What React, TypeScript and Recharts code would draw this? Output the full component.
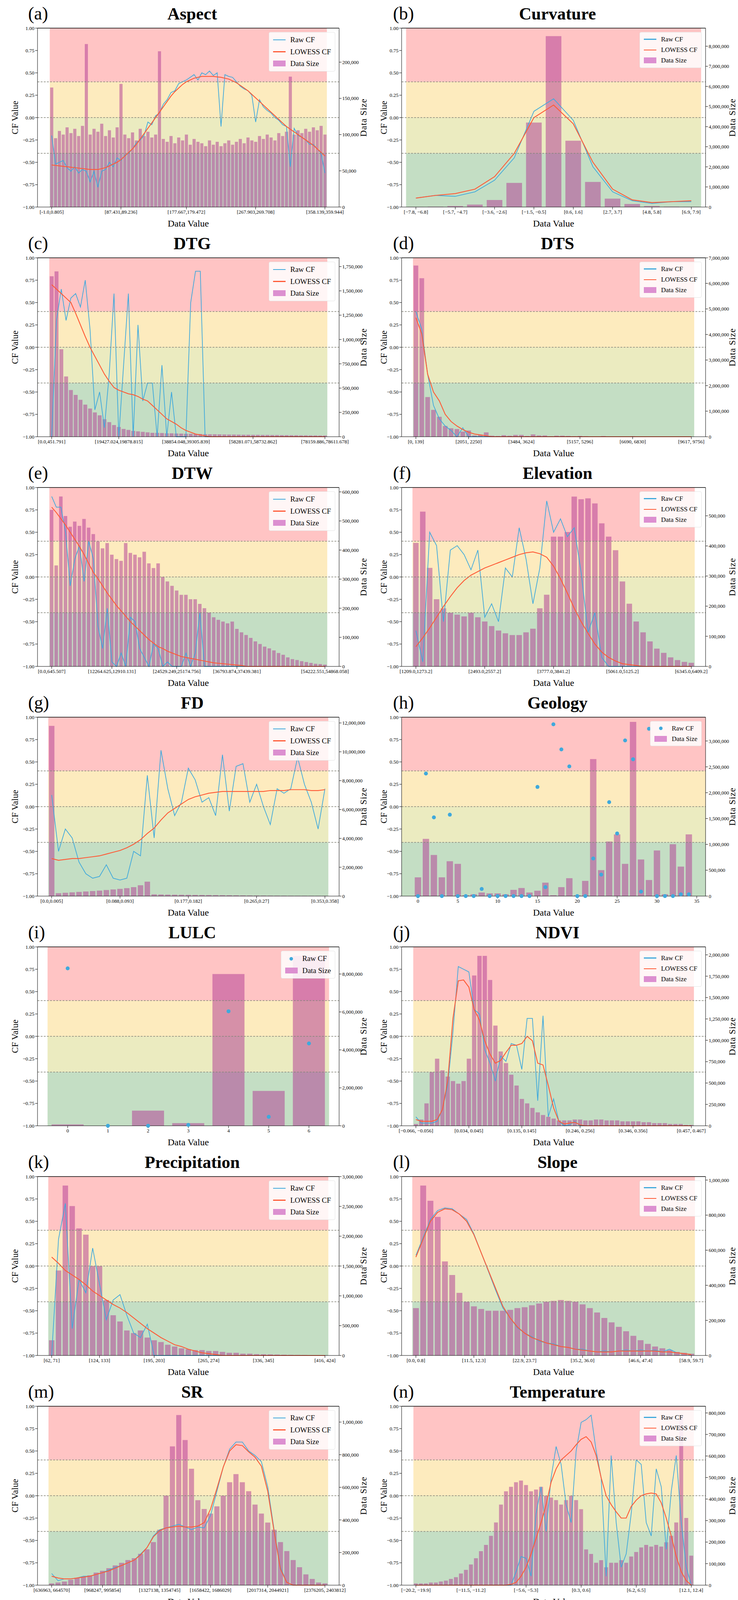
import React from "react";
import { ComposedChart, Bar, Line, XAxis, YAxis, ReferenceArea, ReferenceLine } from "recharts";

const FONT = '"Liberation Serif", "Times New Roman", serif';
const BLUE = "#3fa9dc";
const RED = "#ff5a36";
const BAR = "#b03592";

// ---------- (a) Aspect ----------
const aspectSizeK = [165,95,105,100,110,102,108,98,112,225,100,108,104,115,98,106,96,110,170,100,95,103,92,108,98,104,96,100,215,94,90,98,88,96,92,100,86,94,90,88,84,92,86,90,84,88,92,86,90,94,88,96,92,90,98,94,100,96,92,102,98,104,180,100,106,102,108,104,110,106,112,100];
const aspectRaw = [-0.2,-0.52,-0.5,-0.48,-0.56,-0.6,-0.55,-0.62,-0.58,-0.6,-0.72,-0.6,-0.78,-0.6,-0.58,-0.5,-0.55,-0.45,-0.48,-0.42,-0.4,-0.35,-0.28,-0.25,-0.2,-0.05,-0.08,0.02,0.05,0.15,0.2,0.28,0.3,0.38,0.4,0.42,0.45,0.48,0.42,0.5,0.48,0.52,0.47,0.5,-0.1,0.48,0.46,0.45,0.4,0.35,0.32,0.3,0.25,-0.05,0.2,0.12,0.08,0.05,0.0,-0.03,-0.08,-0.1,-0.55,-0.12,-0.2,-0.22,-0.25,-0.3,-0.3,-0.35,-0.4,-0.62];
const aspectLowess = [-0.53,-0.535,-0.54,-0.545,-0.55,-0.555,-0.56,-0.565,-0.57,-0.575,-0.58,-0.58,-0.58,-0.57,-0.56,-0.54,-0.52,-0.5,-0.47,-0.43,-0.39,-0.35,-0.3,-0.24,-0.18,-0.12,-0.06,0.0,0.06,0.12,0.18,0.24,0.29,0.33,0.37,0.4,0.42,0.44,0.45,0.46,0.46,0.46,0.46,0.455,0.45,0.44,0.43,0.41,0.39,0.36,0.33,0.3,0.26,0.22,0.18,0.14,0.1,0.06,0.02,-0.02,-0.06,-0.1,-0.13,-0.16,-0.19,-0.22,-0.25,-0.28,-0.31,-0.35,-0.39,-0.43];
const aspectTicks = [0, 18, 35, 53, 71];
const aspectTickText = ["[-1.0,0.805]", "[87.431,89.236]", "[177.667,179.472]", "[267.903,269.708]", "[358.139,359.944]"];

// ---------- (b) Curvature ----------
const curvSizeK = [5,20,50,120,350,1200,4200,8500,3300,1250,420,150,50,20,5];
const curvRaw = [-0.9,-0.87,-0.88,-0.83,-0.7,-0.45,0.07,0.21,-0.03,-0.55,-0.83,-0.93,-0.96,-0.94,-0.94];
const curvLowess = [-0.9,-0.87,-0.85,-0.8,-0.66,-0.4,0.0,0.14,-0.07,-0.5,-0.8,-0.92,-0.95,-0.94,-0.93];
const curvTicks = [0, 2, 4, 6, 8, 10, 12, 14];
const curvTickText = ["[−7.8, −6.8]", "[−5.7, −4.7]", "[−3.6, −2.6]", "[−1.5, −0.5]", "[0.6, 1.6]", "[2.7, 3.7]", "[4.8, 5.8]", "[6.9, 7.9]"];

// ---------- (c) DTG ----------
const dtgSizeK = [1650,1700,900,620,480,430,380,330,290,250,220,180,150,120,100,80,70,60,55,50,45,40,40,38,35,35,33,32,30,30,28,28,26,25,25,24,23,22,22,21,20,20,19,19,18,18,17,17,16,16,15,15,14,14,13,13,12,12];
const dtgRaw = [-1,0.3,0.65,0.3,0.55,0.6,0.45,0.75,0.2,-0.7,-0.5,-0.9,-0.3,0.6,-1,-0.2,0.6,-1,0.25,-0.6,-0.4,-0.4,-1,-0.2,-1,-0.5,-1,-1,-1,0.5,0.85,0.85,-1,-1,-1,-1,-1,-1,-1,-1,-1,-1,-1,-1,-1,-1,-1,-1,-1,-1,-1,-1,-1,-1,-1,-1,-1,-1];
const dtgLowess = [0.7,0.65,0.6,0.55,0.5,0.38,0.25,0.12,0.0,-0.1,-0.2,-0.3,-0.38,-0.45,-0.48,-0.5,-0.52,-0.53,-0.55,-0.58,-0.6,-0.65,-0.7,-0.75,-0.8,-0.83,-0.86,-0.9,-0.93,-0.95,-0.97,-0.98,-0.99,-1,-1,-1,-1,-1,-1,-1,-1,-1,-1,-1,-1,-1,-1,-1,-1,-1,-1,-1,-1,-1,-1,-1,-1,-1];
const dtgTicks = [0, 14, 28, 42, 57];
const dtgTickText = ["[0.0,451.791]", "[19427.024,19878.815]", "[38854.048,39305.839]", "[58281.071,58732.862]", "[78159.886,78611.678]"];

// ---------- (d) DTS ----------
const dtsSizeK = [6700,6200,1550,1050,780,420,330,300,200,240,50,80,170,40,30,60,40,70,70,30,90,50,50,20,40,40,30,20,30,20,15,15,25,10,15,10,8,20,10,8,6,10,5,5,4,4,3,3];
const dtsRaw = [0.4,0.2,-0.3,-0.65,-0.8,-0.88,-0.93,-1,-0.9,-1,-1,-1,-1,-1,-1,-1,-1,-1,-1,-1,-1,-1,-1,-1,-1,-1,-1,-1,-1,-1,-1,-1,-1,-1,-1,-1,-1,-1,-1,-1,-1,-1,-1,-1,-1,-1,-1,-1];
const dtsLowess = [0.33,0.15,-0.3,-0.5,-0.6,-0.75,-0.83,-0.88,-0.92,-0.95,-0.97,-0.98,-0.99,-1,-1,-1,-1,-1,-1,-1,-1,-1,-1,-1,-1,-1,-1,-1,-1,-1,-1,-1,-1,-1,-1,-1,-1,-1,-1,-1,-1,-1,-1,-1,-1,-1,-1,-1];
const dtsTicks = [0, 9, 18, 28, 37, 47];
const dtsTickText = ["[0, 139]", "[2051, 2250]", "[3484, 3624]", "[5157, 5296]", "[6690, 6830]", "[9617, 9756]"];

// ---------- (e) DTW ----------
const dtwSizeK = [538,347,584,517,480,498,483,507,477,455,430,406,424,384,369,363,424,390,384,375,394,354,338,354,308,292,277,261,246,246,231,231,215,200,185,169,160,154,148,154,129,117,108,98,86,77,68,62,55,46,40,31,25,22,18,15,12,9,8,6];
const dtwRaw = [0.9,0.78,0.78,0.5,-0.1,0.2,0.35,-0.05,0.4,0.2,-0.55,-0.8,-0.35,-0.95,-1,-0.85,-1,-0.45,-0.5,-0.8,-0.9,-1,-0.75,-0.8,-1,-0.95,-1,-1,-1,-0.85,-1,-0.85,-0.4,-1,-1,-1,-1,-1,-1,-1,-1,-1,-1,-1,-1,-1,-1,-1,-1,-1,-1,-1,-1,-1,-1,-1,-1,-1,-1,-1];
const dtwLowess = [0.78,0.72,0.65,0.58,0.5,0.42,0.34,0.25,0.15,0.05,-0.02,-0.1,-0.18,-0.25,-0.32,-0.38,-0.44,-0.5,-0.55,-0.6,-0.65,-0.7,-0.74,-0.78,-0.8,-0.83,-0.85,-0.87,-0.89,-0.9,-0.91,-0.92,-0.93,-0.94,-0.95,-0.96,-0.965,-0.97,-0.975,-0.98,-0.985,-0.99,-1,-1,-1,-1,-1,-1,-1,-1,-1,-1,-1,-1,-1,-1,-1,-1,-1,-1];
const dtwTicks = [0, 13, 27, 40, 59];
const dtwTickText = ["[0.0,645.507]", "[12264.625,12910.131]", "[24529.249,25174.756]", "[36793.874,37439.381]", "[54222.551,54868.058]"];

// ---------- (f) Elevation ----------
const elevSizeK = [410,514,327,223,193,178,172,166,178,163,149,134,119,110,104,104,113,125,193,238,431,431,446,564,555,558,541,475,431,386,282,208,149,113,83,59,45,30,21,15,12];
const elevRaw = [-0.6,-0.95,0.5,0.35,-0.5,0.3,0.35,0.25,0.08,0.3,-0.45,-0.3,-0.5,0.1,0.0,0.55,0.2,-0.3,0.1,0.85,0.5,0.65,0.45,0.55,0.05,-0.62,-0.4,-0.9,-1,-1,-1,-1,-1,-1,-1,-1,-1,-1,-1,-1,-1];
const elevLowess = [-0.78,-0.68,-0.57,-0.45,-0.33,-0.22,-0.12,-0.04,0.02,0.06,0.1,0.13,0.16,0.19,0.22,0.25,0.27,0.28,0.26,0.22,0.12,-0.02,-0.18,-0.35,-0.5,-0.63,-0.75,-0.84,-0.9,-0.94,-0.97,-0.98,-0.99,-1,-1,-1,-1,-1,-1,-1,-1];
const elevTicks = [0, 10, 20, 30, 40];
const elevTickText = ["[1209.0,1273.2]", "[2493.0,2557.2]", "[3777.0,3841.2]", "[5061.0,5125.2]", "[6345.0,6409.2]"];

// ---------- (g) FD ----------
const fdSizeK = [11800,200,230,260,290,320,350,380,420,460,500,550,620,750,1000,120,110,100,95,90,85,80,75,70,65,60,55,50,45,40,38,35,32,30,28,25,22,20,18,16,15];
const fdRaw = [0.13,-0.5,-0.25,-0.35,-0.62,-0.75,-0.8,-0.78,-0.65,-0.8,-0.82,-0.8,-0.5,-0.55,0.35,-0.35,0.63,0.2,-0.1,0.05,0.43,0.3,0.05,0.1,-0.1,0.58,-0.05,0.45,0.48,0.05,0.25,0.0,-0.2,0.2,0.15,0.2,0.55,0.25,0.05,-0.25,0.2];
const fdLowess = [-0.58,-0.6,-0.59,-0.58,-0.58,-0.57,-0.56,-0.55,-0.53,-0.51,-0.49,-0.46,-0.42,-0.37,-0.3,-0.24,-0.15,-0.07,-0.02,0.03,0.08,0.11,0.13,0.15,0.16,0.17,0.17,0.17,0.17,0.17,0.17,0.17,0.18,0.18,0.18,0.19,0.19,0.19,0.18,0.18,0.19];
const fdTicks = [0, 10, 20, 30, 40];
const fdTickText = ["[0.0,0.005]", "[0.088,0.093]", "[0.177,0.182]", "[0.265,0.27]", "[0.353,0.358]"];

// ---------- (h) Geology ----------
const geoSizeK = [363,1107,796,363,675,623,17,35,69,52,52,35,121,156,69,104,260,17,173,346,17,294,2650,502,1055,1194,623,3370,709,311,882,35,1003,571,1194];
const geoRaw = [-1,0.37,-0.12,-1,-0.09,-1,-1,-1,-0.92,-1,-1,-1,-1,-1,-1,0.22,-0.9,0.92,0.64,0.45,-1,-1,-0.58,-0.76,0.05,-0.3,0.74,0.53,-0.95,0.87,-1,-1,-1,-0.98,-0.98];
const geoTicks = [0, 5, 10, 15, 20, 25, 30, 35];

// ---------- (i) LULC ----------
const lulcSizeK = [71,0,800,141,8000,1840,8950];
const lulcRaw = [0.76,-1,-1,-0.99,0.28,-0.9,-0.08];
const lulcTicks = [0, 1, 2, 3, 4, 5, 6];

// ---------- (j) NDVI ----------
const ndviSizeK = [21,73,262,628,785,649,576,523,492,523,785,1758,1988,1988,1706,1172,869,733,597,471,314,262,209,157,126,105,84,63,63,63,73,73,63,63,73,73,63,63,63,52,52,52,52,42,42,31,31,31,21,21,21,10,10];
const ndviRaw = [-0.9,-0.97,-0.97,-0.97,-0.95,-0.82,-0.55,0.05,0.78,0.75,0.72,0.3,0.25,-0.15,-0.3,-0.5,-0.22,-0.28,-0.08,-0.1,-0.37,0.2,0.2,-0.72,0.23,-0.9,-0.7,-0.95,-1,-0.99,-0.95,-1,-1,-1,-1,-1,-1,-1,-1,-1,-1,-1,-1,-1,-1,-1,-1,-1,-1,-1,-1,-1,-1];
const ndviLowess = [-0.93,-0.95,-0.95,-0.95,-0.93,-0.82,-0.5,0.2,0.62,0.63,0.55,0.3,0.18,-0.05,-0.2,-0.3,-0.27,-0.18,-0.1,-0.1,-0.08,0.0,-0.05,-0.3,-0.32,-0.55,-0.8,-0.95,-0.98,-0.97,-0.96,-0.99,-1,-1,-1,-1,-1,-1,-1,-1,-1,-1,-1,-1,-1,-1,-1,-1,-1,-1,-1,-1,-1];
const ndviTicks = [0, 10, 20, 31, 41, 52];
const ndviTickText = ["[−0.066, −0.056]", "[0.034, 0.045]", "[0.135, 0.145]", "[0.246, 0.256]", "[0.346, 0.356]", "[0.457, 0.467]"];

// ---------- (k) Precipitation ----------
const precSizeK = [255,1425,2850,2505,2130,2025,1500,1500,930,675,570,420,375,420,300,255,225,180,150,120,105,90,90,75,75,60,45,45,30,30,22,20,18,15,12,10,9,8,6,5,4];
const precRaw = [-1,0.3,0.7,-0.7,-0.15,-0.3,0.2,-0.2,-0.6,-0.38,-0.32,-0.55,-0.75,-0.8,-0.65,-1,-1,-1,-1,-1,-1,-1,-1,-1,-1,-1,-1,-1,-1,-1,-1,-1,-1,-1,-1,-1,-1,-1,-1,-1,-1];
const precLowess = [0.1,0.03,-0.05,-0.1,-0.15,-0.21,-0.28,-0.33,-0.38,-0.43,-0.47,-0.52,-0.58,-0.64,-0.7,-0.75,-0.8,-0.84,-0.88,-0.9,-0.93,-0.95,-0.97,-0.98,-0.99,-1,-1,-1,-1,-1,-1,-1,-1,-1,-1,-1,-1,-1,-1,-1,-1];
const precTicks = [0, 7, 15, 23, 31, 40];
const precTickText = ["[62, 71]", "[124, 133]", "[195, 203]", "[265, 274]", "[336, 345]", "[416, 424]"];

// ---------- (l) Slope ----------
const slopeSizeK = [270,969,882,790,536,459,357,306,280,265,255,255,255,260,270,275,286,296,306,311,316,311,306,291,270,245,214,189,163,138,112,87,66,51,41,31,20,15,10];
const slopeRaw = [0.12,0.32,0.52,0.62,0.65,0.64,0.58,0.52,0.36,0.15,-0.06,-0.27,-0.47,-0.58,-0.69,-0.75,-0.79,-0.84,-0.86,-0.87,-0.9,-0.91,-0.93,-0.93,-0.95,-0.96,-0.95,-0.96,-0.95,-0.94,-0.95,-0.94,-0.95,-0.94,-0.96,-0.93,-0.97,-0.98,-0.99];
const slopeLowess = [0.1,0.3,0.5,0.6,0.64,0.63,0.58,0.5,0.35,0.15,-0.05,-0.25,-0.45,-0.58,-0.68,-0.75,-0.8,-0.83,-0.86,-0.88,-0.9,-0.91,-0.93,-0.94,-0.95,-0.96,-0.96,-0.96,-0.95,-0.95,-0.95,-0.95,-0.95,-0.95,-0.96,-0.96,-0.97,-0.98,-0.99];
const slopeTicks = [0, 8, 15, 23, 31, 38];
const slopeTickText = ["[0.0, 0.8]", "[11.5, 12.3]", "[22.9, 23.7]", "[35.2, 36.0]", "[46.6, 47.4]", "[58.9, 59.7]"];

// ---------- (m) SR ----------
const srSizeK = [11,16,22,33,44,49,60,77,88,104,121,137,154,165,192,220,264,340,549,851,1043,890,714,521,467,439,483,549,631,681,631,576,494,439,384,340,264,209,154,110,66,38,16,11];
const srRaw = [-0.87,-0.95,-0.93,-0.93,-0.92,-0.9,-0.9,-0.88,-0.86,-0.83,-0.8,-0.78,-0.75,-0.72,-0.65,-0.58,-0.45,-0.38,-0.36,-0.34,-0.32,-0.35,-0.38,-0.35,-0.36,-0.22,0.05,0.32,0.52,0.6,0.6,0.5,0.45,0.38,0.1,-0.38,-0.8,-0.97,-1,-1,-1,-1,-1,-1];
const srLowess = [-0.9,-0.92,-0.93,-0.93,-0.92,-0.91,-0.9,-0.88,-0.86,-0.84,-0.81,-0.78,-0.75,-0.72,-0.66,-0.58,-0.46,-0.39,-0.36,-0.35,-0.34,-0.35,-0.35,-0.34,-0.3,-0.15,0.08,0.32,0.5,0.57,0.56,0.49,0.43,0.33,0.05,-0.4,-0.82,-0.97,-1,-1,-1,-1,-1,-1];
const srTicks = [0, 8, 17, 25, 34, 43];
const srTickText = ["[636963, 664570]", "[968247, 995854]", "[1327138, 1354745]", "[1658422, 1686029]", "[2017314, 2044921]", "[2376205, 2403812]"];

// ---------- (n) Temperature ----------
const tempSizeK = [8,8,8,12,12,17,21,29,37,54,71,96,125,158,187,229,291,374,436,457,478,486,465,436,444,457,415,407,395,374,395,415,395,353,166,145,104,116,83,104,104,116,104,133,154,175,187,179,187,179,199,229,291,789,312,137];
const tempRaw = [-1,-1,-1,-1,-1,-1,-1,-1,-1,-1,-1,-1,-1,-1,-1,-1,-1,-1,-1,-1,-0.85,-0.68,-0.7,-0.9,-0.2,0.1,-0.4,0.2,0.55,0.35,-0.1,-0.3,0.5,0.82,0.85,0.9,0.5,0.2,-0.9,0.45,-0.3,-0.8,-0.65,-0.2,0.4,0.35,-0.3,-0.45,0.3,0.1,-0.6,0.05,0.45,-0.3,-0.8,-1];
const tempLowess = [-1,-1,-1,-1,-1,-1,-1,-1,-1,-1,-1,-1,-1,-1,-1,-1,-1,-1,-1,-0.99,-0.97,-0.9,-0.8,-0.65,-0.48,-0.3,-0.1,0.15,0.3,0.4,0.45,0.5,0.57,0.63,0.66,0.6,0.45,0.2,0.0,-0.1,-0.18,-0.25,-0.25,-0.12,-0.05,0.0,0.02,0.03,0.02,-0.08,-0.25,-0.45,-0.68,-0.85,-0.95,-1];
const tempTicks = [0, 11, 22, 33, 44, 55];
const tempTickText = ["[−20.2, −19.9]", "[−11.5, −11.2]", "[−5.6, −5.3]", "[0.3, 0.6]", "[6.2, 6.5]", "[12.1, 12.4]"];

// ---------- (o) Temperature difference ----------
const tdSizeK = [15,15,19,24,24,34,97,63,73,97,122,292,195,219,244,633,351,390,438,892,463,438,463,925,901,438,414,390,341,302,244,195,97,122,122,136,122,107,97,122,73,73,58,97,63,73,83,58,73,282,97,657,292,268,195,487,170,122,107,49];
const tdRaw = [-1,-1,-1,-1,-1,-1,-1,-1,-1,-1,-1,-1,-1,-1,-1,-1,-1,-1,-1,-0.95,-0.6,0.1,-0.3,-0.55,-0.75,-0.2,0.25,0.6,0.75,0.83,0.8,0.85,0.68,0.55,0.5,-0.4,-0.2,0.35,0.1,0.5,0.55,-0.3,0.7,0.65,0.6,-0.55,-0.4,-0.9,-0.6,-0.45,-0.9,-0.6,-0.2,0.7,-0.8,-1,-1,-1,-1,-1];
const tdLowess = [-1,-1,-1,-1,-1,-1,-1,-1,-1,-1,-1,-1,-1,-0.99,-0.99,-0.98,-0.97,-0.95,-0.91,-0.86,-0.76,-0.65,-0.52,-0.42,-0.25,-0.1,0.1,0.3,0.48,0.6,0.66,0.67,0.64,0.61,0.57,0.54,0.51,0.5,0.48,0.45,0.41,0.35,0.28,0.18,0.07,-0.05,-0.17,-0.28,-0.4,-0.5,-0.6,-0.68,-0.75,-0.81,-0.87,-0.92,-0.96,-0.98,-1,-1];
const tdTicks = [0, 12, 23, 35, 47, 59];
const tdTickText = ["[21.99, 22.11]", "[24.11, 24.23]", "[26.00, 26.12]", "[27.89, 28.01]", "[29.78, 29.89]", "[31.78, 31.90]"];

// ---------- (p) TRI ----------
const triSizeK = [0,0,0,1,2,5,8,16,21,32,43,59,80,106,144,186,239,319,415,505,612,734,862,984,1000,931,718,505,372,255,170,117,80,53,37,27,16,11,5,3,2,1,1];
const triRaw = [-1,-1,-1,-0.98,-0.92,0.3,0.68,0.78,0.8,0.8,0.79,0.75,0.74,0.7,0.65,0.55,0.45,0.3,0.12,-0.05,-0.15,-0.13,-0.05,0.05,-0.03,-0.3,-0.45,-0.65,-0.78,-0.85,-0.9,-0.92,-0.9,-0.86,-0.84,-0.88,-0.93,-0.95,-0.92,-1,-1,-1,-1];
const triLowess = [-1,-1,-0.99,-0.98,-0.92,0.25,0.65,0.76,0.79,0.78,0.77,0.75,0.73,0.69,0.64,0.55,0.44,0.3,0.12,-0.05,-0.15,-0.13,-0.07,0.0,-0.05,-0.28,-0.45,-0.65,-0.77,-0.84,-0.89,-0.92,-0.91,-0.87,-0.86,-0.89,-0.93,-0.96,-0.98,-0.99,-1,-1,-1];
const triTicks = [0, 8, 17, 25, 34, 42];
const triTickText = ["[0.000, 0.010]", "[0.160, 0.170]", "[0.330, 0.340]", "[0.500, 0.510]", "[0.670, 0.680]", "[0.840, 0.850]"];

// ---------- (q) TWI ----------
const twiSizeK = [39,117,352,620,711,861,1011,1116,1188,1220,1240,1240,1233,1162,1064,985,724,659,489,476,398,294,294,241,209,189,170,150,131,131,111,98,91,85,72,65,59,52,49,46,39,36,33,29,26,23,20,20,16,13,13,10,10,10,7];
const twiRaw = [-0.98,-0.94,-0.93,-0.92,-0.86,-0.8,-0.75,-0.6,-0.1,0.1,0.2,0.27,0.28,0.23,0.2,0.18,0.17,0.17,0.16,0.2,0.2,0.17,0.22,0.24,0.26,0.28,0.33,0.35,0.32,0.35,0.36,0.43,0.41,0.35,0.38,0.41,0.38,0.42,0.4,0.44,0.43,0.39,0.42,0.36,0.45,0.5,0.53,0.56,0.63,0.7,0.76,0.82,0.87,0.91,0.95];
const twiLowess = [-0.99,-0.95,-0.93,-0.9,-0.85,-0.78,-0.7,-0.55,-0.15,0.08,0.2,0.25,0.26,0.23,0.19,0.17,0.17,0.17,0.17,0.18,0.19,0.19,0.21,0.23,0.26,0.29,0.32,0.33,0.34,0.35,0.37,0.4,0.4,0.38,0.38,0.39,0.4,0.41,0.41,0.42,0.42,0.41,0.41,0.42,0.46,0.5,0.54,0.58,0.63,0.69,0.75,0.8,0.85,0.9,0.94];
const twiTicks = [0, 10, 21, 32, 43, 54];
const twiTickText = ["[2.9, 3.2]", "[5.4, 5.7]", "[8.2, 8.5]", "[11.0, 11.2]", "[13.8, 14.0]", "[16.5, 16.8]"];

const CF_TICKS = [-1, -0.75, -0.5, -0.25, 0, 0.25, 0.5, 0.75, 1];

type PanelProps = {
  letter: string;
  title: string;
  size: number[];
  raw: number[];
  lowess?: number[];
  ticks: number[];
  tickText?: string[];
  sizeMax: number;
  sizeTicks: number[];
  col: number;
  dots?: boolean;
  numericX?: [number, number];
  margin?: number;
};

function Legend({ dots, font }: { dots?: boolean; font: number }) {
  const row = { display: "flex", alignItems: "center", gap: 12, height: font * 1.6 } as const;
  return (
    <div style={{ background: "rgba(255,255,255,0.85)", border: "1px solid #e4e4e4", borderRadius: 4, padding: "4px 10px", fontFamily: FONT, fontSize: font }}>
      <div style={row}>
        {dots ? (
          <span style={{ width: 32, display: "flex", justifyContent: "center" }}>
            <span style={{ width: 9, height: 9, borderRadius: 5, background: BLUE }} />
          </span>
        ) : (
          <span style={{ width: 32, height: 2.5, background: BLUE }} />
        )}
        Raw CF
      </div>
      {!dots && (
        <div style={row}>
          <span style={{ width: 32, height: 2.5, background: RED }} />
          LOWESS CF
        </div>
      )}
      <div style={row}>
        <span style={{ width: 32, height: 15, background: "#dc8fd0" }} />
        Data Size
      </div>
    </div>
  );
}

function Panel(p: PanelProps) {
  const W = 944;
  const H = 588;
  const top = 72;
  const leftW = p.col === 0 ? 96 : 84;
  const rightW = p.col === 0 ? 76 : 82;
  const plotW = W - leftW - rightW;
  const n = p.size.length;
  const m = p.margin ?? 0.047;
  const band = (plotW * (1 - 2 * m)) / Math.max(n - 1, 1);
  const pad = Math.max(m * plotW - band / 2, 0);
  const data = p.size.map((s, i) => ({ i, size: s, raw: p.raw[i], lowess: p.lowess ? p.lowess[i] : null }));
  const tickFmt = (v: number) => {
    if (!p.tickText) return String(v);
    const k = p.ticks.indexOf(v);
    return k >= 0 ? p.tickText[k] : "";
  };
  const tickStyle = { fontFamily: FONT, fontSize: 13, fill: "#000" };
  const barSize = p.numericX ? (0.8 * plotW) / (p.numericX[1] - p.numericX[0]) : undefined;
  const legendFont = p.col === 0 ? 19 : 17;
  const xLabel = { value: "Data Value", position: "insideBottom", offset: 8, style: { fontFamily: FONT, fontSize: 24, fill: "#000" } } as const;

  return (
    <div style={{ position: "relative", width: W, height: H }}>
      <div style={{ position: "absolute", left: p.col === 0 ? 72 : 62, top: 8, fontFamily: FONT, fontSize: 46 }}>({p.letter})</div>
      <div style={{ position: "absolute", left: leftW, width: plotW + 20, top: 10, textAlign: "center", fontFamily: FONT, fontSize: 44, fontWeight: "bold" }}>{p.title}</div>
      <ComposedChart width={W} height={H} data={data} margin={{ top, right: 0, bottom: 0, left: 0 }} style={{ overflow: "visible" }}>
        <ReferenceArea yAxisId="cf" y1={0.4} y2={1} fill="#ffc4c4" fillOpacity={1} stroke="none" />
        <ReferenceArea yAxisId="cf" y1={0} y2={0.4} fill="#fdebbe" fillOpacity={1} stroke="none" />
        <ReferenceArea yAxisId="cf" y1={-0.4} y2={0} fill="#ebebc0" fillOpacity={1} stroke="none" />
        <ReferenceArea yAxisId="cf" y1={-1} y2={-0.4} fill="#c4dec4" fillOpacity={1} stroke="none" />
        {p.numericX ? (
          <XAxis dataKey="i" type="number" domain={p.numericX} ticks={p.ticks} interval={0} height={58} tick={tickStyle} stroke="#000" tickLine={{ stroke: "#000" }} label={xLabel} />
        ) : (
          <XAxis dataKey="i" type="category" ticks={p.ticks} interval={0} tickFormatter={tickFmt} padding={{ left: pad, right: pad }} height={58} tick={tickStyle} stroke="#000" tickLine={{ stroke: "#000" }} label={xLabel} />
        )}
        <YAxis yAxisId="cf" domain={[-1, 1]} ticks={CF_TICKS} width={leftW} tick={tickStyle} stroke="#000" interval={0}
          tickFormatter={(v: number) => v.toFixed(2).replace("-", "−")}
          label={{ value: "CF Value", angle: -90, position: "insideLeft", offset: 38, style: { fontFamily: FONT, fontSize: 23, fill: "#000", textAnchor: "middle" } }} />
        <YAxis yAxisId="size" orientation="right" domain={[0, p.sizeMax]} ticks={p.sizeTicks} width={rightW} tick={tickStyle} stroke="#000" interval={0} allowDataOverflow
          tickFormatter={(v: number) => (v * 1000).toLocaleString("en-US")}
          label={{ value: "Data Size", angle: -90, position: "insideRight", offset: 14, style: { fontFamily: FONT, fontSize: 23, fill: "#000", textAnchor: "middle", letterSpacing: 1 } }} />
        {p.dots ? (
          <Line yAxisId="cf" dataKey="raw" stroke="none" strokeWidth={0} dot={{ r: 5, fill: BLUE, stroke: "none" }} isAnimationActive={false} />
        ) : (
          <Line yAxisId="cf" dataKey="raw" stroke={BLUE} strokeWidth={1.8} dot={false} isAnimationActive={false} />
        )}
        {p.lowess && <Line yAxisId="cf" dataKey="lowess" stroke={RED} strokeWidth={2.2} dot={false} isAnimationActive={false} />}
        <Bar yAxisId="size" dataKey="size" fill={BAR} fillOpacity={0.5} barSize={barSize} isAnimationActive={false} />
        <ReferenceLine yAxisId="cf" y={0.4} stroke="#85857a" strokeDasharray="5 3" strokeWidth={1.5} />
        <ReferenceLine yAxisId="cf" y={0} stroke="#85857a" strokeDasharray="5 3" strokeWidth={1.5} />
        <ReferenceLine yAxisId="cf" y={-0.4} stroke="#85857a" strokeDasharray="5 3" strokeWidth={1.5} />
        <ReferenceLine yAxisId="cf" y={1} stroke="#000" strokeWidth={1.5} />
      </ComposedChart>
      <div style={{ position: "absolute", right: rightW + 10, top: top + 10 }}>
        <Legend dots={p.dots} font={legendFont} />
      </div>
    </div>
  );
}

export default function App() {
  return (
    <div style={{ width: 1888, background: "#fff" }}>
      <style>{`body{margin:0;background:#fff}`}</style>
      <div style={{ display: "grid", gridTemplateColumns: "944px 944px" }}>
        <Panel col={0} letter="a" title="Aspect" size={aspectSizeK} raw={aspectRaw} lowess={aspectLowess} ticks={aspectTicks} tickText={aspectTickText} sizeMax={247} sizeTicks={[0, 50, 100, 150, 200]} />
        <Panel col={1} letter="b" title="Curvature" size={curvSizeK} raw={curvRaw} lowess={curvLowess} ticks={curvTicks} tickText={curvTickText} sizeMax={8900} sizeTicks={[0, 1000, 2000, 3000, 4000, 5000, 6000, 7000, 8000]} />
        <Panel col={0} letter="c" title="DTG" size={dtgSizeK} raw={dtgRaw} lowess={dtgLowess} ticks={dtgTicks} tickText={dtgTickText} sizeMax={1840} sizeTicks={[0, 250, 500, 750, 1000, 1250, 1500, 1750]} />
        <Panel col={1} letter="d" title="DTS" size={dtsSizeK} raw={dtsRaw} lowess={dtsLowess} ticks={dtsTicks} tickText={dtsTickText} sizeMax={7000} sizeTicks={[0, 1000, 2000, 3000, 4000, 5000, 6000, 7000]} />
        <Panel col={0} letter="e" title="DTW" size={dtwSizeK} raw={dtwRaw} lowess={dtwLowess} ticks={dtwTicks} tickText={dtwTickText} sizeMax={615} sizeTicks={[0, 100, 200, 300, 400, 500, 600]} />
        <Panel col={1} letter="f" title="Elevation" size={elevSizeK} raw={elevRaw} lowess={elevLowess} ticks={elevTicks} tickText={elevTickText} sizeMax={594} sizeTicks={[0, 100, 200, 300, 400, 500]} />
        <Panel col={0} letter="g" title="FD" size={fdSizeK} raw={fdRaw} lowess={fdLowess} ticks={fdTicks} tickText={fdTickText} sizeMax={12400} sizeTicks={[0, 2000, 4000, 6000, 8000, 10000, 12000]} />
        <Panel col={1} letter="h" title="Geology" size={geoSizeK} raw={geoRaw} ticks={geoTicks} dots numericX={[-2.05, 36.1]} sizeMax={3460} sizeTicks={[0, 500, 1000, 1500, 2000, 2500, 3000]} />
        <Panel col={0} letter="i" title="LULC" size={lulcSizeK} raw={lulcRaw} ticks={lulcTicks} dots margin={0.1} sizeMax={9430} sizeTicks={[0, 2000, 4000, 6000, 8000]} />
        <Panel col={1} letter="j" title="NDVI" size={ndviSizeK} raw={ndviRaw} lowess={ndviLowess} ticks={ndviTicks} tickText={ndviTickText} sizeMax={2093} sizeTicks={[0, 250, 500, 750, 1000, 1250, 1500, 1750, 2000]} />
        <Panel col={0} letter="k" title="Precipitation" size={precSizeK} raw={precRaw} lowess={precLowess} ticks={precTicks} tickText={precTickText} sizeMax={3000} sizeTicks={[0, 500, 1000, 1500, 2000, 2500, 3000]} />
        <Panel col={1} letter="l" title="Slope" size={slopeSizeK} raw={slopeRaw} lowess={slopeLowess} ticks={slopeTicks} tickText={slopeTickText} sizeMax={1020} sizeTicks={[0, 200, 400, 600, 800, 1000]} />
        <Panel col={0} letter="m" title="SR" size={srSizeK} raw={srRaw} lowess={srLowess} ticks={srTicks} tickText={srTickText} sizeMax={1097} sizeTicks={[0, 200, 400, 600, 800, 1000]} />
        <Panel col={1} letter="n" title="Temperature" size={tempSizeK} raw={tempRaw} lowess={tempLowess} ticks={tempTicks} tickText={tempTickText} sizeMax={831} sizeTicks={[0, 100, 200, 300, 400, 500, 600, 700, 800]} />
        <Panel col={0} letter="o" title="Temerature difference" size={tdSizeK} raw={tdRaw} lowess={tdLowess} ticks={tdTicks} tickText={tdTickText} sizeMax={975} sizeTicks={[0, 200, 400, 600, 800]} />
        <Panel col={1} letter="p" title="TRI" size={triSizeK} raw={triRaw} lowess={triLowess} ticks={triTicks} tickText={triTickText} sizeMax={1065} sizeTicks={[0, 200, 400, 600, 800, 1000]} />
        <Panel col={0} letter="q" title="TWI" size={twiSizeK} raw={twiRaw} lowess={twiLowess} ticks={twiTicks} tickText={twiTickText} sizeMax={1305} sizeTicks={[0, 200, 400, 600, 800, 1000, 1200]} />
      </div>
    </div>
  );
}
